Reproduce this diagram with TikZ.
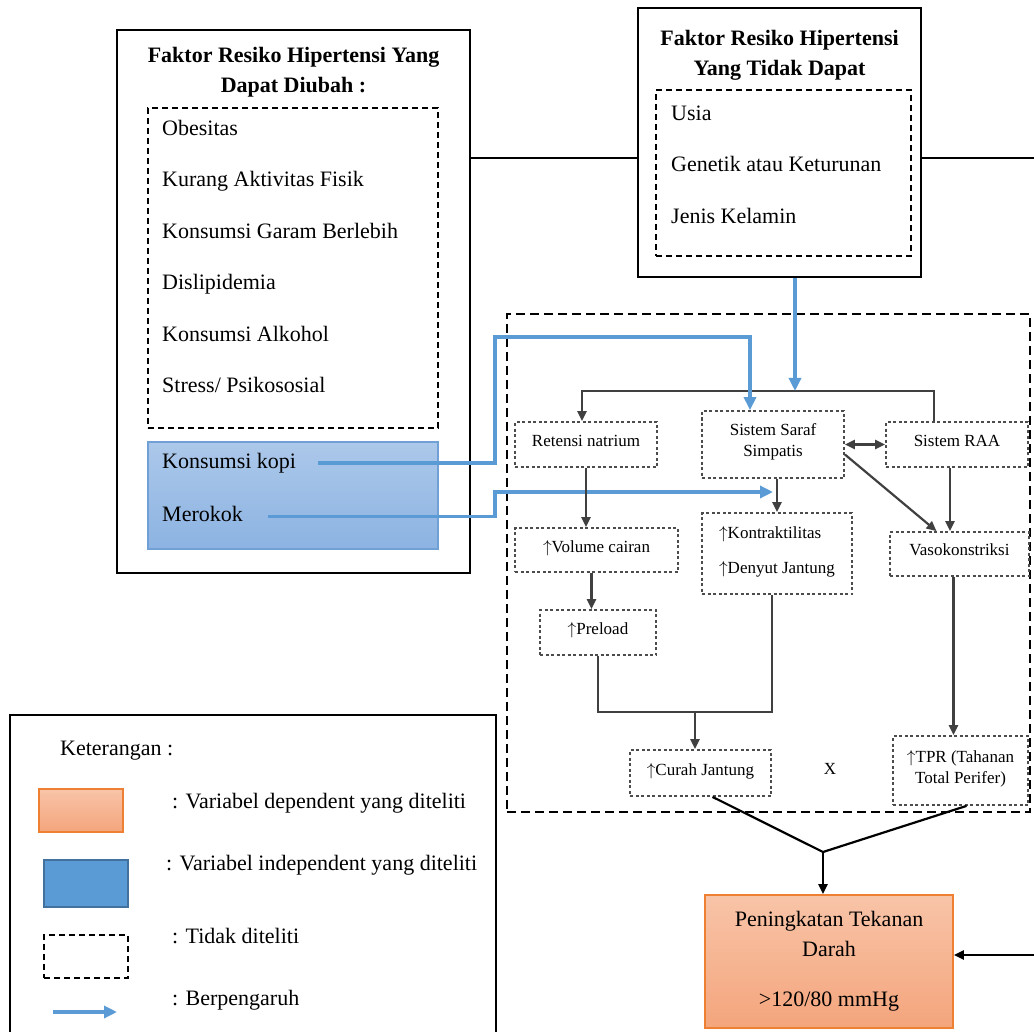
\documentclass[tikz,border=0pt]{standalone}
\usepackage{fontspec}
\setmainfont{Liberation Serif}
\usetikzlibrary{arrows,arrows.meta,positioning,shapes}
\definecolor{flowblue}{RGB}{91,155,213}
\definecolor{tealborder}{RGB}{112,160,214}
\definecolor{palebluetop}{RGB}{172,200,234}
\definecolor{palebluebot}{RGB}{140,179,226}
\definecolor{orangetop}{RGB}{248,196,168}
\definecolor{orangebot}{RGB}{244,165,124}
\definecolor{orangeline}{RGB}{238,128,52}
\definecolor{swatchline}{RGB}{65,113,156}
\tikzset{
    %Define standard arrow tip
    >={Triangle[length=10pt,width=9pt]},
    %Define style for boxes
    framebox/.style={
             draw=black, line width=1.8pt,
             inner sep=0pt},
    listbox/.style={
             draw=black, line width=1.5pt,
             dash pattern=on 6pt off 4pt,
             inner sep=0pt},
    mechbox/.style={
             draw=black, line width=1.7pt,
             dash pattern=on 9pt off 5pt,
             inner sep=0pt},
    smallbox/.style={
             draw=black!70, line width=1.8pt,
             dash pattern=on 3pt off 2.5pt,
             align=center, text depth=8pt,
             font=\fontsize{17}{21}\selectfont},
    telitibox/.style={
             draw=tealborder, line width=1.5pt,
             top color=palebluetop, bottom color=palebluebot},
    hasil/.style={
             draw=orangeline, line width=1.8pt,
             top color=orangetop, bottom color=orangebot,
             align=center,
             font=\fontsize{22}{30}\selectfont},
    titletext/.style={
             align=center,
             font=\bfseries\fontsize{22}{30}\selectfont},
    factortext/.style={
             inner sep=0pt, text height=16pt, text depth=5pt,
             font=\fontsize{22}{26}\selectfont},
    % Define arrow style
    plainline/.style={
            draw=black!75,
            line width=2.2pt},
    flowline/.style={
            ->,
            draw=black!75,
            line width=2.2pt},
    blueflow/.style={
            -{Triangle[length=13pt,width=12pt]},
            draw=flowblue,
            line width=3.6pt}
}
\begin{document}
\begin{tikzpicture}[x=1pt, y=-1pt]
 \useasboundingbox (0,0) rectangle (1034,1032);
 % faktor yang dapat diubah
 \node[framebox, minimum width=353pt, minimum height=543pt] (dapatubah) at (293.5,301.5) {};
 \node[titletext] (judulubah) at (293.5,72) {Faktor Resiko Hipertensi Yang\\Dapat Diubah :};
 \node[listbox, minimum width=290pt, minimum height=320pt] (listubah) at (293,268) {};
 \node[factortext, anchor=west] (obesitas) at (162,130) {Obesitas};
 \node[factortext, below=30pt of obesitas.south west, anchor=north west] (fisik) {Kurang Aktivitas Fisik};
 \node[factortext, below=30pt of fisik.south west, anchor=north west] (garam) {Konsumsi Garam Berlebih};
 \node[factortext, below=30pt of garam.south west, anchor=north west] (dislipid) {Dislipidemia};
 \node[factortext, below=30pt of dislipid.south west, anchor=north west] (alkohol) {Konsumsi Alkohol};
 \node[factortext, below=30pt of alkohol.south west, anchor=north west] (stress) {Stress/ Psikososial};
 \node[telitibox, minimum width=290pt, minimum height=107pt] (diteliti) at (293,495.5) {};
 \node[factortext, anchor=west] (kopi) at (162,463) {Konsumsi kopi};
 \node[factortext, below=32pt of kopi.south west, anchor=north west] (merokok) {Merokok};
 % faktor yang tidak dapat diubah
 \node[framebox, minimum width=283pt, minimum height=269pt] (tidakubah) at (779.5,142.5) {};
 \node[titletext] (judultidak) at (779.5,55) {Faktor Resiko Hipertensi\\Yang Tidak Dapat};
 \node[listbox, minimum width=255pt, minimum height=166pt] (listtidak) at (783.5,173) {};
 \node[factortext, anchor=west] (usia) at (671,115) {Usia};
 \node[factortext, below=30pt of usia.south west, anchor=north west] (genetik) {Genetik atau Keturunan};
 \node[factortext, below=30pt of genetik.south west, anchor=north west] (kelamin) {Jenis Kelamin};
 % mekanisme
 \node[mechbox, minimum width=523pt, minimum height=498pt] (mekanisme) at (768.5,563) {};
 \node[smallbox, minimum width=142pt, minimum height=45pt] (retensi) at (586,444.5) {Retensi natrium};
 \node[smallbox, minimum width=142pt, minimum height=67pt] (saraf) at (773,444.5) {Sistem Saraf\\Simpatis};
 \node[smallbox, minimum width=142pt, minimum height=45pt] (raa) at (957,444.5) {Sistem RAA};
 \node[smallbox, minimum width=163pt, minimum height=44pt] (volume) at (596.5,550) {$\uparrow$Volume cairan};
 \node[smallbox, minimum width=150pt, minimum height=81pt, align=left] (kontrak) at (777,553.5) {$\uparrow$Kontraktilitas\\[14pt]$\uparrow$Denyut Jantung};
 \node[smallbox, minimum width=139pt, minimum height=44pt] (vaso) at (959.5,554) {Vasokonstriksi};
 \node[smallbox, minimum width=116pt, minimum height=45pt] (preload) at (598,632.5) {$\uparrow$Preload};
 \node[smallbox, minimum width=141pt, minimum height=46pt] (curah) at (700.5,773) {$\uparrow$Curah Jantung};
 \node[smallbox, minimum width=135pt, minimum height=69pt] (tpr) at (960.5,770.5) {$\uparrow$TPR (Tahanan\\Total Perifer)};
 \node[font=\fontsize{17}{21}\selectfont] (kali) at (830,769) {X};
 \node[hasil, minimum width=248pt, minimum height=133pt] (tekanan) at (829,961.5) {Peningkatan Tekanan\\Darah\\[20pt]>120/80 mmHg};
 % titik bantu
 \coordinate (garisatas) at (1034,158);
 \coordinate (busin) at (795,391);
 \coordinate (busR) at (934,391);
 \coordinate (busL) at (582,391);
 \coordinate (kopibend) at (495,337);
 \coordinate (merokokbend) at (495,492);
 \coordinate (merokokhit) at (773,492);
 \coordinate (cojoin) at (695,712);
 \coordinate (tdjoin) at (823,852);
 \coordinate (kanan) at (1034,955);
 % garis
 \draw[plainline, draw=black] (dapatubah.east |- garisatas) -- (tidakubah.west |- garisatas);
 \draw[plainline, draw=black] (tidakubah.east |- garisatas) -- (garisatas);
 \draw[flowline] (busR |- raa.north) -- (busR) -- (busL) -- (busL |- retensi.north);
 \draw[blueflow] (busin |- tidakubah.south) -- (busin);
 \draw[blueflow] ([xshift=22pt]kopi.east) -| (kopibend) -| ([xshift=-23pt]saraf.north);
 \draw[blueflow] ([xshift=25pt]merokok.east) -| (merokokbend) -- (merokokhit);
 \draw[flowline, <->] (saraf.east) -- (raa.west);
 \draw[flowline] ([yshift=-10pt]saraf.east) -- ([xshift=-23pt]vaso.north);
 \draw[flowline] ([xshift=-7pt]raa.south) -- ([xshift=-7pt]raa.south |- vaso.north);
 \draw[flowline] (retensi.south) -- (retensi.south |- volume.north);
 \draw[flowline] ([xshift=4pt]saraf.south) -- ([xshift=4pt]saraf.south |- kontrak.north);
 \draw[flowline] ([xshift=-5pt]volume.south) -- ([xshift=-5pt]volume.south |- preload.north);
 \draw[plainline] (preload.south) |- (cojoin) -| ([xshift=-5pt]kontrak.south);
 \draw[flowline] (cojoin) -- (cojoin |- curah.north);
 \draw[flowline] ([xshift=-6pt]vaso.south) -- ([xshift=-6pt]vaso.south |- tpr.north);
 \draw[plainline, draw=black] ([xshift=12pt]curah.south) -- (tdjoin) -- ([xshift=6pt]tpr.south);
 \draw[flowline, draw=black] (tdjoin) -- (tdjoin |- tekanan.north);
 \draw[flowline, draw=black] (kanan) -- (kanan -| tekanan.east);
 % keterangan
 \draw[line width=1.8pt] (10,1032) |- (496,715) -- (496,1032);
 \node[factortext, anchor=west] (keterangan) at (60,750) {Keterangan :};
 \node[hasil, minimum width=84pt, minimum height=43pt] (swdep) at (81,810.5) {};
 \node[factortext, anchor=west] (ketdep) at (172,803) {: Variabel dependent yang diteliti};
 \node[draw=swatchline, fill=flowblue, line width=1.5pt, minimum width=84pt, minimum height=47pt] (swindep) at (86,883.5) {};
 \node[factortext, anchor=west] (ketindep) at (166,865) {: Variabel independent yang diteliti};
 \node[listbox, minimum width=84pt, minimum height=43pt] (swtidak) at (86,956.5) {};
 \node[factortext, anchor=west] (kettidak) at (172,938) {: Tidak diteliti};
 \coordinate (legstart) at (53,1012);
 \coordinate (legakhir) at (117,1012);
 \draw[blueflow] (legstart) -- (legakhir);
 \node[factortext, anchor=west] (ketpengaruh) at (172,1000) {: Berpengaruh};
\end{tikzpicture}
\end{document}
